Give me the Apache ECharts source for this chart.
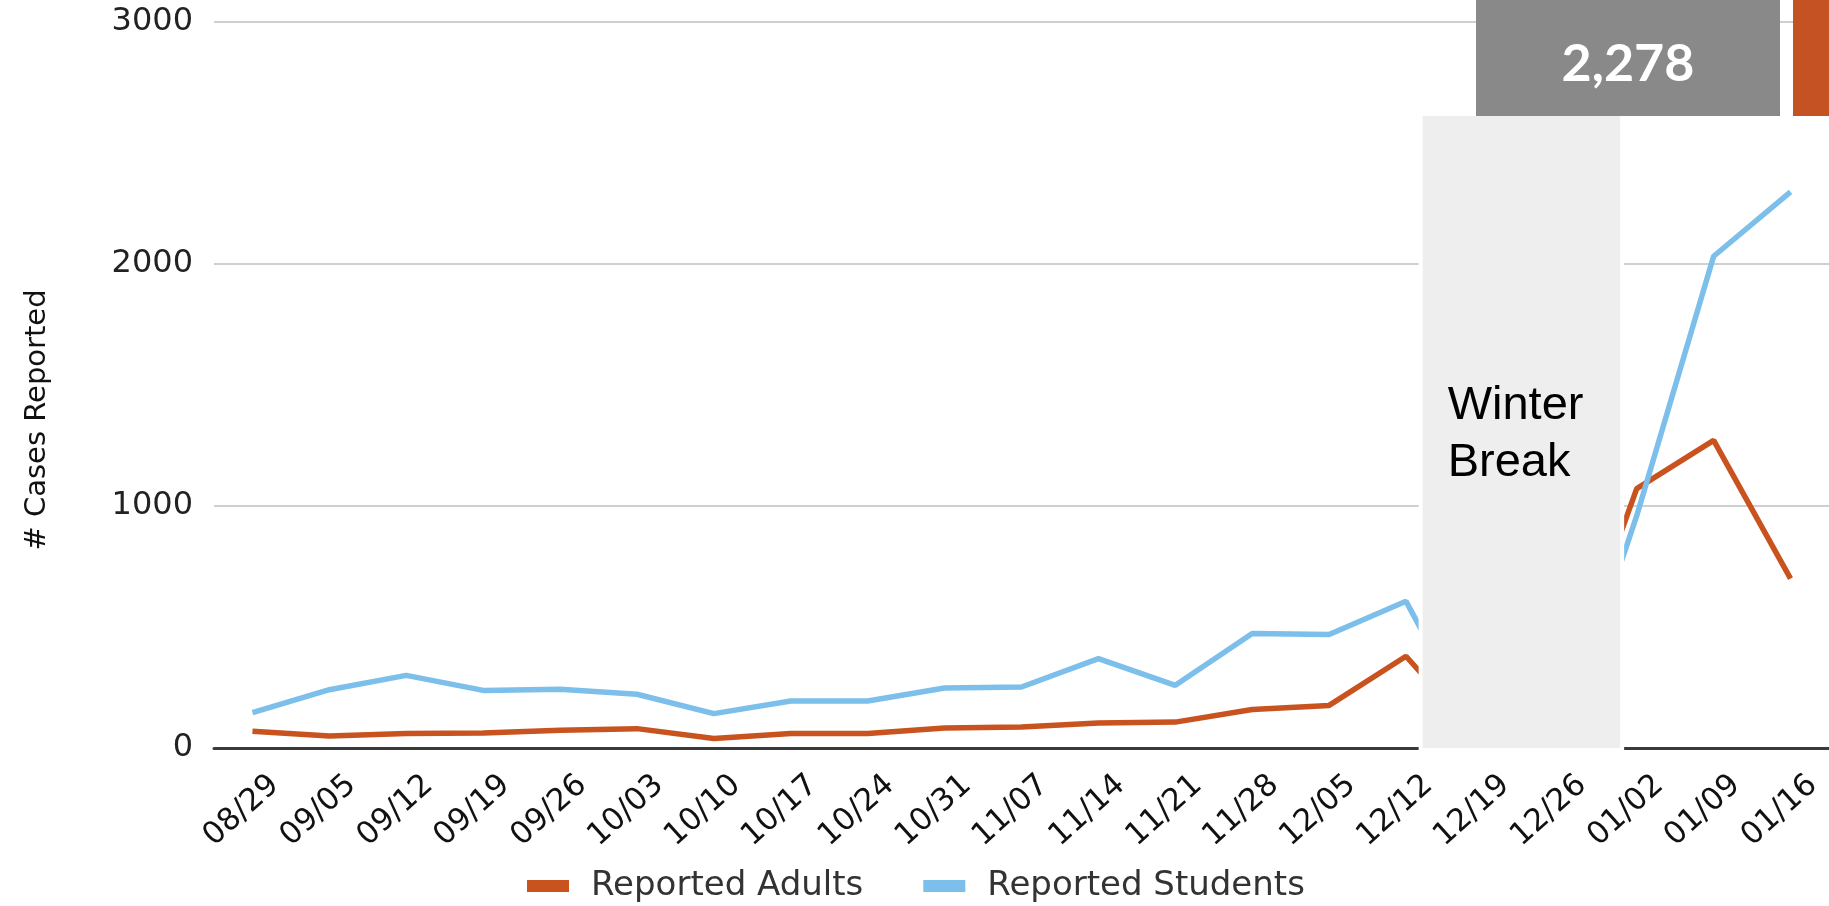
<!DOCTYPE html>
<html>
<head>
<meta charset="utf-8">
<script src="https://cdn.jsdelivr.net/npm/echarts@6/dist/echarts.min.js"></script>
<style>
  html, body { margin: 0; padding: 0; background: #fff; }
  #chart { width: 1829px; height: 906px; }
</style>
</head>
<body>
<div id="chart"></div>
<script>
// ---- data ----
const dates = ['08/29','09/05','09/12','09/19','09/26','10/03','10/10','10/17','10/24','10/31','11/07','11/14','11/21','11/28','12/05','12/12','12/19','12/26','01/02','01/09','01/16'];
const reportedAdults   = [69, 50, 60, 62, 73, 80, 39, 60, 60, 83, 87, 103, 107, 159, 176, 379, 22, 190, 1072, 1271, 700];
const reportedStudents = [146, 241, 300, 238, 243, 222, 142, 194, 194, 248, 252, 369, 259, 473, 469, 606, 18, 10, 960, 2032, 2298];
const yTicks = [0, 1000, 2000, 3000];
const seriesNames = ['Reported Adults', 'Reported Students'];
const breakLabel = 'Winter\nBreak';
const breakFrom = '12/19';
const breakTo = '12/26';
const breakTop = 2620;
const calloutText = '2,278';

const ORANGE = '#C8531F';
const BLUE = '#7CBFEA';

const chart = echarts.init(document.getElementById('chart'), null, { renderer: 'canvas' });

const option = {
  animation: false,
  backgroundColor: '#ffffff',
  grid: { left: 214, right: 0, top: 22, bottom: 158, containLabel: false, outerBoundsMode: 'none' },
  legend: {
    left: 522,
    top: 864,
    icon: 'rect',
    itemWidth: 42,
    itemHeight: 12,
    itemGap: 60,
    data: seriesNames,
    textStyle: { fontFamily: 'DejaVu Sans', fontSize: 34, color: '#333', lineHeight: 34, padding: [0, 0, 0, 17] }
  },
  xAxis: [{
    type: 'category',
    data: dates,
    boundaryGap: true,
    axisLine: { show: true, lineStyle: { color: '#3a3a3a', width: 3 } },
    axisTick: { show: false },
    splitLine: { show: false },
    axisLabel: {
      interval: 0,
      rotate: 42,
      margin: 8,
      verticalAlign: 'top',
      padding: [18, 0, 0, 0],
      fontFamily: 'DejaVu Sans',
      fontSize: 31,
      color: '#111'
    }
  }],
  yAxis: {
    type: 'value',
    min: yTicks[0],
    max: yTicks[yTicks.length - 1],
    interval: 1000,
    name: '# Cases Reported',
    nameLocation: 'middle',
    nameRotate: 90,
    nameGap: 162,
    nameTextStyle: { fontFamily: 'DejaVu Sans', fontSize: 29, color: '#111', padding: [0, 70, 0, 0] },
    axisLine: { show: false },
    axisTick: { show: false },
    splitLine: { show: true, lineStyle: { color: '#cfcfcf', width: 2 } },
    axisLabel: { margin: 21, fontFamily: 'DejaVu Sans', fontSize: 32, color: '#222', formatter: function (v) { return String(v); } }
  },
  series: [
    {
      name: seriesNames[0],
      type: 'line',
      data: reportedAdults,
      symbol: 'none',
      z: 2,
      lineStyle: { color: ORANGE, width: 5.5 },
      itemStyle: { color: ORANGE }
    },
    {
      name: seriesNames[1],
      type: 'line',
      data: reportedStudents,
      symbol: 'none',
      z: 2,
      lineStyle: { color: BLUE, width: 5.5 },
      itemStyle: { color: BLUE }
    },
    {
      type: 'custom',
      z: 5,
      clip: false,
      silent: true,
      data: [[dates.indexOf(breakFrom), dates.indexOf(breakTo), breakTop]],
      encode: { x: 0, y: 2 },
      renderItem: function (params, api) {
        const bw = api.size([1, 0])[0];
        const pad = 0.81;
        const pA = api.coord([api.value(0), 0]);
        const pB = api.coord([api.value(1), api.value(2)]);
        const x0 = pA[0] - bw * pad;
        const x1 = pB[0] + bw * pad;
        const yTop = pB[1];
        const yBot = pA[1] + 2;
        return {
          type: 'group',
          children: [
            {
              type: 'rect',
              shape: { x: x0, y: yTop, width: x1 - x0, height: yBot - yTop },
              style: { fill: '#EEEEEE', stroke: '#ffffff', lineWidth: 4 }
            },
            {
              type: 'text',
              x: x0 + 27,
              y: yTop + 264,
              style: {
                text: breakLabel,
                fontFamily: 'Liberation Sans',
                fontSize: 47,
                lineHeight: 57,
                fill: '#000',
                align: 'left',
                verticalAlign: 'top'
              }
            }
          ]
        };
      }
    }
  ],
  graphic: [
    { type: 'rect', left: 1476, top: 0, shape: { width: 304, height: 116 }, style: { fill: '#898989' }, z: 10 },
    { type: 'rect', left: 1793, top: 0, shape: { width: 36, height: 116 }, style: { fill: '#C55222' }, z: 10 },
    {
      type: 'text', x: 1628, y: 64, z: 11,
      style: { text: calloutText, fontFamily: 'Lato', fontWeight: 'bold', fontSize: 52, fill: '#ffffff', align: 'center', verticalAlign: 'middle' }
    }
  ]
};

chart.setOption(option);
</script>
</body>
</html>
